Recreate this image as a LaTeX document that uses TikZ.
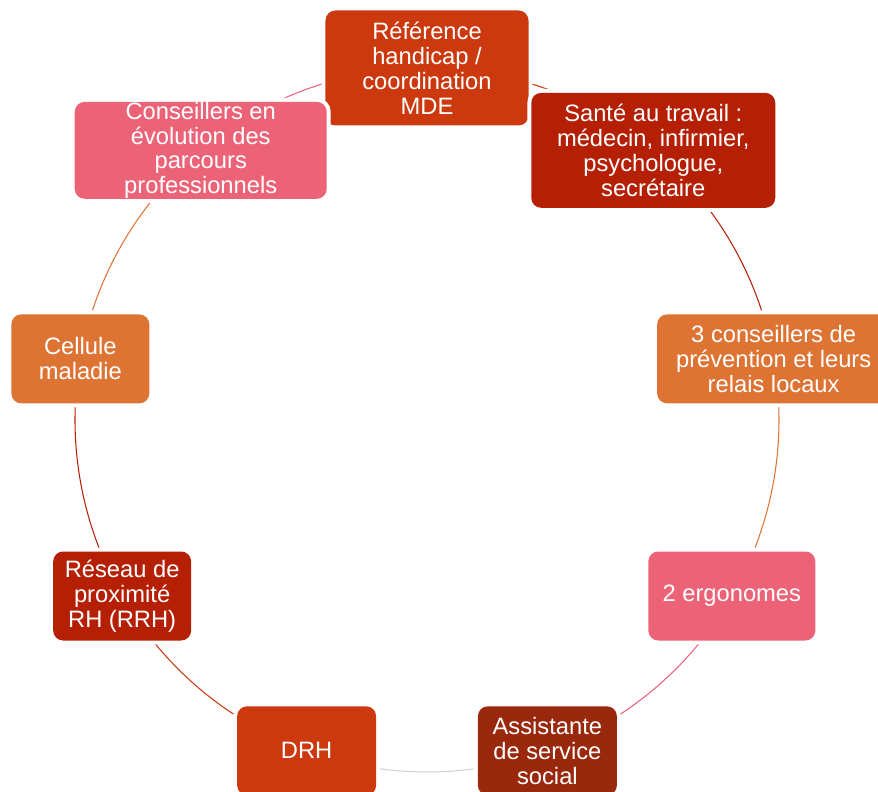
\documentclass[tikz,border=0pt]{standalone}
\usepackage{fontspec}
\setmainfont{Liberation Sans}
\usetikzlibrary{backgrounds}

\definecolor{rouge}{RGB}{204,57,14}
\definecolor{rougef}{RGB}{181,32,5}
\definecolor{orangeb}{RGB}{222,116,52}
\definecolor{rose}{RGB}{236,99,120}
\definecolor{brun}{RGB}{154,40,12}
\definecolor{grisl}{RGB}{210,210,210}

\begin{document}
\begin{tikzpicture}[
		bloc/.style={rounded corners=0.2cm, text=white, align=center, inner sep=0pt,
			font=\fontsize{13.5}{14.2}\selectfont, preaction={draw=white,line width=4.5pt}},
		lien/.style={line width=0.6pt}
	]
				% fix the page size
				\useasboundingbox (-8.54,-7.42) rectangle (9.02,8.4);
				
				% radius of the circle
				\def\r{7.04}
				
				% the nine boxes round the circle
				\node[bloc, fill=rouge, minimum width=4.06cm, minimum height=2.3cm] (ref) at (90:\r) {Référence\\handicap /\\coordination\\MDE};
				\node[bloc, fill=rougef, minimum width=4.88cm, minimum height=2.3cm] (sante) at (50:\r) {Santé au travail :\\médecin, infirmier,\\psychologue,\\secrétaire};
				\node[bloc, fill=orangeb, minimum width=4.66cm, minimum height=1.78cm] (prev) at (10:\r) {3 conseillers de\\prévention et leurs\\relais locaux};
				\node[bloc, fill=rose, minimum width=3.34cm, minimum height=1.78cm] (ergo) at (-30:\r) {2 ergonomes};
				\node[bloc, fill=brun, minimum width=2.78cm, minimum height=1.78cm] (assist) at (-70:\r) {Assistante\\de service\\social};
				\node[bloc, fill=rouge, minimum width=2.78cm, minimum height=1.78cm] (drh) at (-110:\r) {DRH};
				\node[bloc, fill=rougef, minimum width=2.76cm, minimum height=1.78cm] (rrh) at (-150:\r) {Réseau de\\proximité\\RH (RRH)};
				\node[bloc, fill=orangeb, minimum width=2.76cm, minimum height=1.78cm] (cellule) at (170:\r) {Cellule\\maladie};
				\node[bloc, fill=rose, minimum width=5.04cm, minimum height=1.92cm] (cep) at (130:\r) {Conseillers en\\évolution des\\parcours\\professionnels};
				
				% arcs between the boxes, behind them
				\begin{scope}[on background layer]
					\foreach \a/\b/\c in {ref/sante/rouge, sante/prev/rougef, prev/ergo/orangeb, ergo/assist/rose, assist/drh/grisl, drh/rrh/rouge, rrh/cellule/rougef, cellule/cep/orangeb, cep/ref/rose}
					\draw[lien, \c] (\a.center) to[bend left=20, looseness=0.88] (\b.center);
				\end{scope}
				
\end{tikzpicture}
\end{document}
